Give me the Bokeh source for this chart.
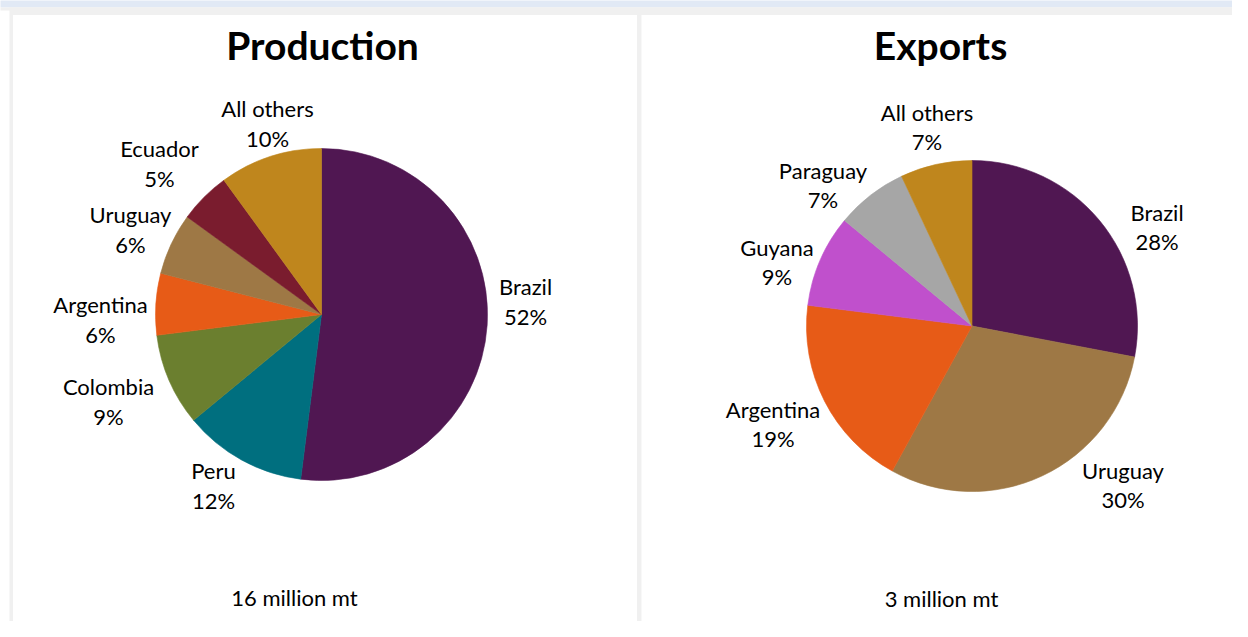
import numpy as np
from bokeh.plotting import figure
from bokeh.models import Range1d, ColumnDataSource
from bokeh.core.properties import value
from bokeh.embed import file_html
from bokeh.resources import INLINE

# ---------------- data ----------------
prod_countries = ["Brazil", "Peru", "Colombia", "Argentina", "Uruguay", "Ecuador", "All others"]
prod_share = [52, 12, 9, 6, 6, 5, 10]
exp_countries = ["Brazil", "Uruguay", "Argentina", "Guyana", "Paraguay", "All others"]
exp_share = [28, 30, 19, 9, 7, 7]
titles = ["Production", "Exports"]
totals = ["16 million mt", "3 million mt"]

# ---------------- styles / layout ----------------
country_colors = {
    "Brazil": "#501752",
    "Peru": "#006f7f",
    "Colombia": "#6b7f2f",
    "Argentina": "#e75b17",
    "Uruguay": "#9e7845",
    "Ecuador": "#7a1c2e",
    "All others": "#bf861d",
    "Guyana": "#c050cc",
    "Paraguay": "#a6a6a6",
}
FONT = "Lato"
W, H = 1232, 621

# label block centres, offsets (px) from each pie centre (Excel "best fit" placement)
prod_label_offsets = [(204, -13), (-108, 171), (-213, 87), (-221, 5), (-191, -85), (-162, -151), (-54, -191)]
exp_label_offsets = [(185, -99), (151, 159), (-199, 98), (-195, -64), (-149, -141), (-45, -199)]

panels = [
    dict(left=12.5, right=636.5, cx=321, cy=314, r=166, tx=322, ty=44, bx=294, by=597),
    dict(left=641, right=1260, cx=971.5, cy=325.5, r=165.5, tx=940, ty=44, bx=941, by=598),
]

p = figure(width=W, height=H, x_range=Range1d(0, W), y_range=Range1d(-H, 0),
           output_backend="svg", toolbar_location=None, min_border=0,
           background_fill_color="white", border_fill_color="white", outline_line_color=None)
p.axis.visible = False
p.grid.visible = False

# page chrome: blue band on top, grey frame, white panels
p.quad(left=[-5], right=[W + 5], top=[5], bottom=[-7], fill_color="#e1e9f5", line_color=None)
p.quad(left=[-5, 9], right=[W + 5, W + 5], top=[-7, -7], bottom=[-10, -H - 5],
       fill_color="#f0f0f0", line_color=None)
p.quad(left=[pp["left"] for pp in panels], right=[pp["right"] for pp in panels],
       top=[-14.5, -14.5], bottom=[-H - 5, -H - 5],
       fill_color="white", line_color=None)


def draw_pie(countries, shares, offsets, panel, title, total):
    vals = np.array(shares, dtype=float)
    frac = vals / vals.sum()
    b = np.cumsum(frac)
    a = b - frac
    start = np.pi / 2 - 2 * np.pi * b
    end = np.pi / 2 - 2 * np.pi * a
    cols = [country_colors[c] for c in countries]
    src = ColumnDataSource(dict(x=[panel["cx"]] * len(vals), y=[-panel["cy"]] * len(vals),
                                start=start, end=end, color=cols))
    p.wedge(x="x", y="y", radius=panel["r"], start_angle="start", end_angle="end",
            direction="anticlock", fill_color="color", line_color="color", line_width=0.6,
            source=src)
    labels = [f"{c}\n{s}%" for c, s in zip(countries, shares)]
    lx = [panel["cx"] + dx for dx, dy in offsets]
    ly = [-(panel["cy"] + dy) for dx, dy in offsets]
    p.text(x=lx, y=ly, text=labels, text_font=value(FONT), text_font_size="22px",
           text_align="center", text_baseline="middle", text_line_height=1.09,
           text_color="#000000")
    p.text(x=[panel["tx"]], y=[-panel["ty"]], text=[title], text_font=value(FONT),
           text_font_size="39px", text_font_style="bold", text_align="center",
           text_baseline="middle", text_color="#000000")
    p.text(x=[panel["bx"]], y=[-panel["by"]], text=[total], text_font=value(FONT),
           text_font_size="22px", text_align="center", text_baseline="middle",
           text_color="#000000")


draw_pie(prod_countries, prod_share, prod_label_offsets, panels[0], titles[0], totals[0])
draw_pie(exp_countries, exp_share, exp_label_offsets, panels[1], titles[1], totals[1])

open("out.html", "w").write(file_html(p, INLINE))
